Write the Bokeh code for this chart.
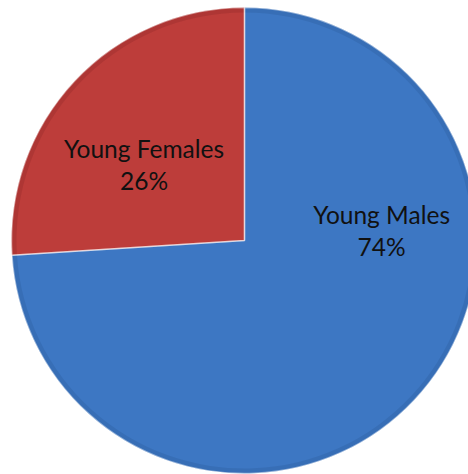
import math
from bokeh.plotting import figure
from bokeh.models import Range1d, ColumnDataSource
from bokeh.core.properties import value
from bokeh.embed import file_html
from bokeh.resources import INLINE

# data
categories = ["Young Males", "Young Females"]
shares = [74, 26]
colors = ["#3d77c3", "#bd3d3a"]
edge_colors = ["#2f5f9e", "#932c2a"]

# layout (pixels)
W, H = 468, 474
CX, CY, R = 244, 234, 233
# label placement: (angle deg, distance as fraction of radius)
label_pos = [(4.0, 0.59), (143.0, 0.54)]

p = figure(width=W, height=H, output_backend="svg", toolbar_location=None,
           x_range=Range1d(0, W), y_range=Range1d(0, H), min_border=0,
           background_fill_color="white", border_fill_color="white")
p.axis.visible = False
p.grid.visible = False
p.outline_line_color = None

total = sum(shares)
top = math.pi / 2
males_span = shares[0] / total * 2 * math.pi
fem_span = shares[1] / total * 2 * math.pi
starts = [top - males_span, top]
ends = [top, top + fem_span]

src = ColumnDataSource(dict(x=[CX] * 2, y=[CY] * 2, start=starts, end=ends,
                            color=colors, edge=edge_colors, cat=categories))
p.wedge(x="x", y="y", radius=R, start_angle="start", end_angle="end",
        fill_color="color", line_color=None, source=src)
# bevel-like darker rim
p.annular_wedge(x="x", y="y", inner_radius=R - 5, outer_radius=R, start_angle="start",
                end_angle="end", fill_color="edge", fill_alpha=0.35, line_color=None, source=src)
p.wedge(x="x", y="y", radius=R, start_angle="start", end_angle="end",
        fill_color=None, line_color="#ffffff", line_alpha=0.45, line_width=1.5, source=src)

# label text
lx, ly1, ly2, t1, t2 = [], [], [], [], []
for (ang, d), c, s in zip(label_pos, categories, shares):
    a = math.radians(ang)
    x = CX + d * R * math.cos(a)
    y = CY + d * R * math.sin(a)
    lx.append(x); ly1.append(y + 16); ly2.append(y - 16)
    t1.append(c); t2.append(f"{s}%")

p.text(x=lx + lx, y=ly1 + ly2, text=t1 + t2, text_align="center", text_baseline="middle",
       text_font=value("Lato"), text_font_size="24.5px", text_color="#111111")

open("out.html", "w").write(file_html(p, INLINE))
